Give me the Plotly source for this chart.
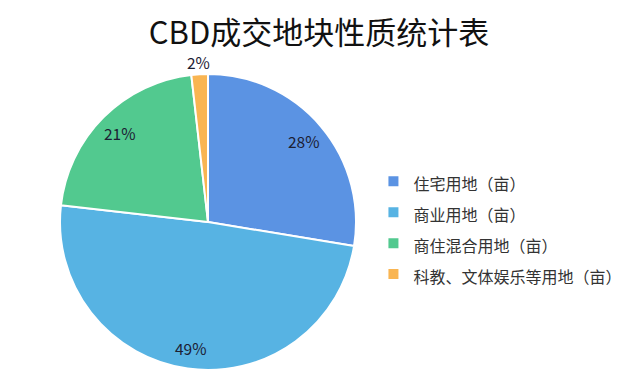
import math
import plotly.graph_objects as go

title = "CBD成交地块性质统计表"
categories = ["住宅用地（亩）", "商业用地（亩）", "商住混合用地（亩）", "科教、文体娱乐等用地（亩）"]
values = [27.6, 49.2, 21.4, 1.8]
colors = ["#5B93E3", "#57B3E3", "#52C98F", "#F9B552"]
label_radius = [0.85, 0.86, 0.85, 1.08]   # relative radial placement of the % labels

FONT = "Noto Sans CJK SC, Microsoft YaHei, sans-serif"
W, H = 640, 389
OFF = 8  # page body margin offset

# pie geometry (figure pixels)
CX, CY, R = 208 - OFF, 222 - OFF, 148
dom_x = [(CX - R) / W, (CX + R) / W]
dom_y = [1 - (CY + R) / H, 1 - (CY - R) / H]

fig = go.Figure(go.Pie(
    labels=[f'<span style="font-size:16px">{c}</span>' for c in categories],
    values=values,
    sort=False,
    direction="clockwise",
    rotation=0,
    marker=dict(colors=colors, line=dict(color="white", width=2)),
    textinfo="none",
    hoverinfo="label+percent",
    domain=dict(x=dom_x, y=dom_y),
))

# percentage labels, placed from the values
total = sum(values)
cum = 0.0
annotations = []
for v, rr in zip(values, label_radius):
    mid = (cum + v / 2) / total * 2 * math.pi
    cum += v
    px = CX + R * rr * math.sin(mid)
    py = CY - R * rr * math.cos(mid)
    annotations.append(dict(
        x=px / W, y=1 - py / H, xref="paper", yref="paper",
        text=f"{round(v / total * 100)}%", showarrow=False,
        xanchor="center", yanchor="middle",
        font=dict(family=FONT, size=15.5, color="#1c2033"),
    ))

fig.update_layout(
    width=W, height=H,
    margin=dict(l=0, r=0, t=0, b=0),
    paper_bgcolor="white",
    plot_bgcolor="white",
    font=dict(family=FONT, color="#222"),
    title=dict(text=title, x=(319 - OFF) / W, xanchor="center", y=0.935, yanchor="middle",
               font=dict(family=FONT, size=31, color="#111")),
    showlegend=True,
    legend=dict(x=0.571, xanchor="left", y=0.435, yanchor="middle",
                font=dict(family=FONT, size=21.5, color="#333"),
                bgcolor="rgba(0,0,0,0)", traceorder="normal"),
    annotations=annotations,
)

fig.write_html("out.html")
